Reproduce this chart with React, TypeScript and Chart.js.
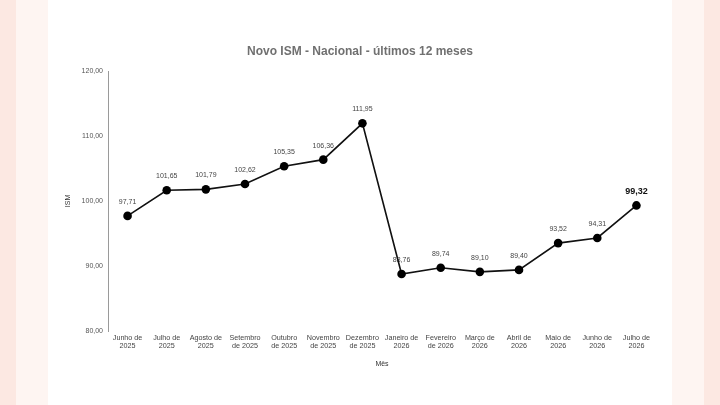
import React, { useEffect, useRef } from "react";
import { Chart, registerables } from "chart.js";

Chart.register(...registerables);

const months: string[][] = [
  ["Junho de", "2025"],
  ["Julho de", "2025"],
  ["Agosto de", "2025"],
  ["Setembro", "de 2025"],
  ["Outubro", "de 2025"],
  ["Novembro", "de 2025"],
  ["Dezembro", "de 2025"],
  ["Janeiro de", "2026"],
  ["Fevereiro", "de 2026"],
  ["Março de", "2026"],
  ["Abril de", "2026"],
  ["Maio de", "2026"],
  ["Junho de", "2026"],
  ["Julho de", "2026"],
];

const ismValues: number[] = [
  97.71, 101.65, 101.79, 102.62, 105.35, 106.36, 111.95, 88.76, 89.74, 89.1, 89.4, 93.52, 94.31, 99.32,
];

const yTicks: number[] = [80, 90, 100, 110, 120];

const FONT = "'Liberation Sans', Arial, sans-serif";

const fmt = (v: number) => v.toFixed(2).replace(".", ",");

const labelPlugin = {
  id: "valueLabels",
  beforeDatasetsDraw(chart: any) {
    const ctx = chart.ctx;
    const meta = chart.getDatasetMeta(0);
    const data = chart.data.datasets[0].data as number[];
    ctx.save();
    ctx.textAlign = "center";
    ctx.textBaseline = "middle";
    meta.data.forEach((pt: any, i: number) => {
      const last = i === data.length - 1;
      ctx.font = last ? `bold 9px ${FONT}` : `7px ${FONT}`;
      ctx.fillStyle = last ? "#111111" : "#444444";
      ctx.fillText(fmt(data[i]), pt.x, pt.y - 14);
    });
    ctx.restore();
  },
};

export default function App() {
  const ref = useRef<HTMLCanvasElement | null>(null);

  useEffect(() => {
    document.body.style.margin = "0";
    const canvas = ref.current;
    if (!canvas) return;
    const chart = new Chart(canvas, {
      type: "line",
      data: {
        labels: months,
        datasets: [
          {
            data: ismValues,
            borderColor: "#111111",
            borderWidth: 1.6,
            backgroundColor: "#000000",
            pointBackgroundColor: "#000000",
            pointBorderColor: "#000000",
            pointRadius: 4.3,
            pointBorderWidth: 0,
            tension: 0,
            fill: false,
          },
        ],
      },
      options: {
        responsive: false,
        animation: false,
        devicePixelRatio: 1,
        layout: { padding: { top: 0, left: 16, right: 16, bottom: 0 } },
        plugins: {
          legend: { display: false },
          tooltip: { enabled: false },
          title: {
            display: true,
            text: "Novo ISM - Nacional - últimos 12 meses",
            color: "#707070",
            font: { family: FONT, size: 12, weight: "bold", lineHeight: 1.2 },
            padding: { top: 44.8, bottom: 11.8 },
          },
        },
        scales: {
          x: {
            type: "category",
            offset: true,
            grid: { display: false, drawTicks: false },
            border: { display: false },
            ticks: {
              autoSkip: false,
              maxRotation: 0,
              minRotation: 0,
              padding: 3,
              color: "#444444",
              font: { family: FONT, size: 7.2, lineHeight: 1.1 },
            },
            title: {
              display: true,
              text: "Mês",
              color: "#333333",
              font: { family: FONT, size: 7, lineHeight: 1.2 },
              padding: { top: 0, bottom: 36.8 },
            },
            afterFit: (scale: any) => {
              scale.height = 74;
            },
          },
          y: {
            min: 80,
            max: 120,
            afterBuildTicks: (scale: any) => {
              scale.ticks = yTicks.map((v) => ({ value: v }));
            },
            grid: { display: false, drawTicks: false },
            border: { display: true, color: "#9a9a9a", width: 1 },
            ticks: {
              padding: 5,
              color: "#555555",
              font: { family: FONT, size: 7 },
              callback: (v: any) => fmt(Number(v)),
            },
            title: {
              display: true,
              text: "ISM",
              color: "#333333",
              font: { family: FONT, size: 7, lineHeight: 1.2 },
              padding: { top: 0, bottom: 0 },
            },
            afterFit: (scale: any) => {
              scale.width = 44;
            },
          },
        },
      },
      plugins: [labelPlugin],
    });
    return () => chart.destroy();
  }, []);

  const band = (left: number, width: number, color: string) => (
    <div style={{ position: "absolute", left, top: 0, width, height: 405, background: color }} />
  );

  return (
    <div style={{ position: "relative", width: 720, height: 405, overflow: "hidden", background: "#ffffff" }}>
      {band(0, 16, "#fce8e2")}
      {band(16, 32, "#fef5f2")}
      {band(672, 32, "#fef5f2")}
      {band(704, 16, "#fce8e2")}
      <canvas
        ref={ref}
        width={624}
        height={405}
        style={{ position: "absolute", left: 48, top: 0, width: 624, height: 405, display: "block" }}
      />
    </div>
  );
}
